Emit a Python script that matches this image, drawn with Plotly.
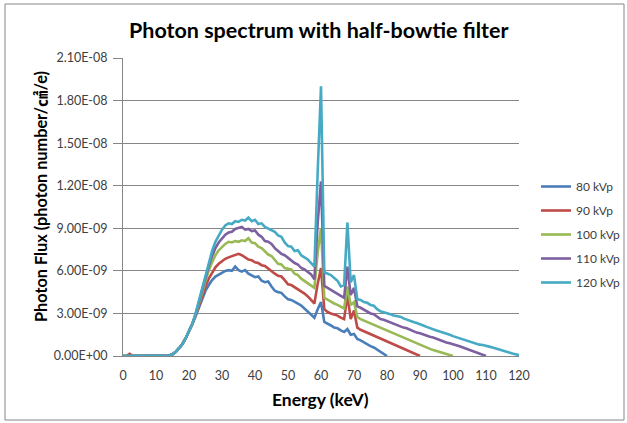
import plotly.graph_objects as go

# Energy (keV) and photon flux values, in units of 1e-9 photon number/cm2/e
UNIT = 1e-9

rise = [0.03, 0.12, 0.3, 0.55, 0.85, 1.25, 1.7, 2.25]  # 14..21 keV (shared)

flux_80 = [0, 0, 0, 0, 0, 0, 0, 0, 0, 0, 0, 0, 0, 0] + rise + [
    2.8, 3.4, 4.1, 4.6, 5.0, 5.35, 5.6, 5.75, 5.9, 6.0,      # 22-31
    6.05, 6.0, 6.3, 6.05, 5.95, 6.05, 5.8, 5.7, 5.55, 5.6,   # 32-41
    5.3, 5.2, 5.25, 4.9, 4.6, 4.5, 4.45, 4.2, 4.0, 3.95,     # 42-51
    3.85, 3.7, 3.55, 3.35, 3.1, 2.9, 2.7, 3.3, 3.8, 2.4,     # 52-61
    2.3, 2.15, 2.0, 1.95, 1.8, 1.7, 1.9, 1.5, 1.55, 1.2,     # 62-71
    1.1, 0.95, 0.85, 0.7, 0.6, 0.45, 0.3, 0.15, 0.0]         # 72-80

flux_90 = [0, 0, 0.15, 0, 0, 0, 0, 0, 0, 0, 0, 0, 0, 0] + rise + [
    2.85, 3.55, 4.3, 4.9, 5.45, 5.9, 6.25, 6.5, 6.7, 6.85,
    6.95, 7.05, 7.15, 7.2, 7.1, 6.95, 6.8, 6.75, 6.6, 6.55,
    6.4, 6.35, 6.15, 6.0, 5.8, 5.65, 5.6, 5.35, 5.05, 5.0,
    4.85, 4.75, 4.55, 4.4, 4.2, 3.95, 3.7, 5.1, 6.2, 3.3,
    3.1, 3.0, 2.95, 2.85, 2.7, 2.6, 4.3, 2.6, 3.2, 2.0,
    1.85, 1.75, 1.6, 1.5, 1.45, 1.35, 1.25, 1.15, 1.05, 0.95,
    0.85, 0.75, 0.65, 0.55, 0.45, 0.35, 0.25, 0.1, 0.0]

flux_100 = [0, 0, 0, 0, 0, 0, 0, 0, 0, 0, 0, 0, 0, 0] + rise + [
    2.9, 3.7, 4.6, 5.35, 6.05, 6.6, 7.1, 7.45, 7.7, 7.9,
    8.05, 8.0, 8.1, 8.05, 8.15, 8.1, 8.3, 8.0, 7.95, 7.7,
    7.6, 7.4, 7.15, 7.05, 6.8, 6.5, 6.45, 6.2, 6.15, 6.1,
    5.8, 5.7, 5.45, 5.3, 5.1, 4.95, 4.8, 7.3, 9.0, 4.1,
    3.95, 3.8, 3.7, 3.6, 3.45, 3.35, 4.9, 3.6, 3.8, 2.75,
    2.6, 2.5, 2.4, 2.3, 2.2, 2.1, 2.0, 1.9, 1.8, 1.7,
    1.6, 1.5, 1.4, 1.25, 1.15, 1.05, 0.95, 0.85, 0.78, 0.68,
    0.6, 0.5, 0.42, 0.35, 0.27, 0.2, 0.12, 0.05, 0.0]

flux_110 = [0, 0, 0, 0, 0, 0, 0, 0, 0, 0, 0, 0, 0, 0] + rise + [
    2.95, 3.8, 4.75, 5.6, 6.35, 7.05, 7.6, 8.0, 8.3, 8.55,
    8.7, 8.75, 8.95, 9.0, 9.1, 8.9, 8.95, 8.8, 8.85, 8.55,
    8.4, 8.1, 8.05, 7.9, 7.6, 7.4, 7.2, 7.1, 6.9, 6.75,
    6.55, 6.45, 6.2, 6.1, 5.9, 5.75, 5.4, 9.4, 12.3, 4.95,
    4.8, 4.65, 4.5, 4.35, 4.2, 4.1, 6.3, 4.3, 4.8, 3.5,
    3.4, 3.25, 3.15, 3.0, 2.95, 2.75, 2.6, 2.55, 2.45, 2.35,
    2.25, 2.2, 2.1, 2.0, 1.95, 1.85, 1.7, 1.65, 1.6, 1.5,
    1.45, 1.35, 1.3, 1.2, 1.1, 1.05, 0.95, 0.9, 0.85, 0.75,
    0.68, 0.6, 0.52, 0.45, 0.35, 0.28, 0.2, 0.1, 0.0]

flux_120 = [0, 0, 0, 0, 0, 0, 0, 0, 0, 0, 0, 0, 0, 0] + rise + [
    3.0, 3.9, 4.9, 5.8, 6.6, 7.4, 8.05, 8.5, 8.9, 9.2,
    9.35, 9.3, 9.5, 9.45, 9.6, 9.55, 9.75, 9.5, 9.6, 9.3,
    9.35, 9.1, 9.0, 8.85, 8.75, 8.5, 8.4, 8.0, 7.75, 7.7,
    7.4, 7.45, 7.1, 6.95, 6.8, 6.55, 6.3, 13.0, 19.0, 5.9,
    5.8, 5.7, 5.5, 5.3, 4.9, 5.0, 9.4, 5.2, 5.7, 4.0,
    3.95, 3.8, 3.75, 3.6, 3.55, 3.3, 3.15, 3.1, 3.0, 2.95,
    2.85, 2.8, 2.77, 2.65, 2.55, 2.48, 2.4, 2.32, 2.25, 2.15,
    2.05, 1.95, 1.88, 1.8, 1.72, 1.65, 1.6, 1.5, 1.4, 1.32,
    1.25, 1.17, 1.1, 1.02, 0.95, 0.88, 0.8, 0.78, 0.7, 0.66,
    0.6, 0.52, 0.45, 0.38, 0.32, 0.25, 0.18, 0.1, 0.05, 0.0]

series_names = ["80 kVp", "90 kVp", "100 kVp", "110 kVp", "120 kVp"]
series_values = [flux_80, flux_90, flux_100, flux_110, flux_120]
colors = ["#4A7EBB", "#BE4B48", "#98B954", "#7D60A0", "#46AAC5"]

y_tick_vals = [0, 3e-9, 6e-9, 9e-9, 1.2e-8, 1.5e-8, 1.8e-8, 2.1e-8]
y_tick_text = ["0.00E+00", "3.00E-09", "6.00E-09", "9.00E-09",
               "1.20E-08", "1.50E-08", "1.80E-08", "2.10E-08"]
x_tick_vals = list(range(0, 121, 10))

FONT = "Lato, 'Noto Sans CJK KR', sans-serif"

fig = go.Figure()
for name, vals, col in zip(series_names, series_values, colors):
    energies = list(range(len(vals)))
    fig.add_trace(go.Scatter(
        x=energies, y=[v * UNIT for v in vals], mode="lines", name=name,
        legendgroup=name,
        line=dict(color=col, width=2.6), hoverinfo="skip"))

W, H = 627, 423
# plot-area edges in window pixels
L_PX, R_PX, T_PX, B_PX = 123, 519, 58, 356
ML, MR, MT, MB = L_PX, W - R_PX, T_PX, H - B_PX
PW, PH = R_PX - L_PX, B_PX - T_PX


def px_x(px):
    return (px - L_PX) / PW


def px_y(py):
    return (B_PX - py) / PH


fig.update_layout(
    width=W, height=H,
    margin=dict(l=ML, r=MR, t=MT, b=MB, pad=0, autoexpand=False),
    paper_bgcolor="white", plot_bgcolor="white",
    font=dict(family=FONT, size=11, color="#404040"),
    showlegend=True,
    legend=dict(x=px_x(536), y=px_y(172), xanchor="left", yanchor="top",
                font=dict(size=12, color="#404040"), itemwidth=30,
                tracegroupgap=5, bgcolor="rgba(0,0,0,0)"),
    xaxis=dict(range=[0, 120], tickvals=x_tick_vals, showgrid=False,
               zeroline=False, showline=True, linecolor="#868686",
               linewidth=1, ticks="outside", ticklen=0,
               ticklabelstandoff=8,
               tickfont=dict(size=12.5, color="#404040"),
               fixedrange=True, automargin=False),
    yaxis=dict(range=[0, 2.1e-8], tickvals=y_tick_vals, ticktext=y_tick_text,
               showgrid=True, gridcolor="#868686", gridwidth=1,
               zeroline=False, showline=True, linecolor="#868686",
               linewidth=1, ticks="outside", ticklen=9, tickcolor="#868686",
               ticklabelstandoff=3,
               tickfont=dict(size=12.5, color="#404040"), fixedrange=True,
               automargin=False),
    annotations=[
        dict(text="<b>Photon spectrum with half-bowtie filter</b>",
             xref="paper", yref="paper", x=px_x(318), y=px_y(30),
             xanchor="center", yanchor="middle", showarrow=False,
             font=dict(size=21.5, color="#000000", family=FONT)),
        dict(text="<b>Photon Flux (photon number/㎠/e)</b>",
             xref="paper", yref="paper", x=px_x(40), y=px_y(197),
             xanchor="center", yanchor="middle", showarrow=False,
             textangle=-90, font=dict(size=16.3, color="#000000", family=FONT)),
        dict(text="<b>Energy (keV)</b>",
             xref="paper", yref="paper", x=px_x(320), y=px_y(399),
             xanchor="center", yanchor="middle", showarrow=False,
             font=dict(size=17.5, color="#000000", family=FONT)),
    ],
    shapes=[dict(type="rect", xref="paper", yref="paper",
                 x0=px_x(5), x1=px_x(624), y0=px_y(420), y1=px_y(4),
                 line=dict(color="#868686", width=1), fillcolor="rgba(0,0,0,0)",
                 layer="below")],
)

# remove the browser's default 8px page margin so the figure fills the window
fig.write_html(
    "out.html",
    config={"displayModeBar": False},
    post_script="document.body.style.margin='0';"
                "document.body.style.overflow='hidden';")
